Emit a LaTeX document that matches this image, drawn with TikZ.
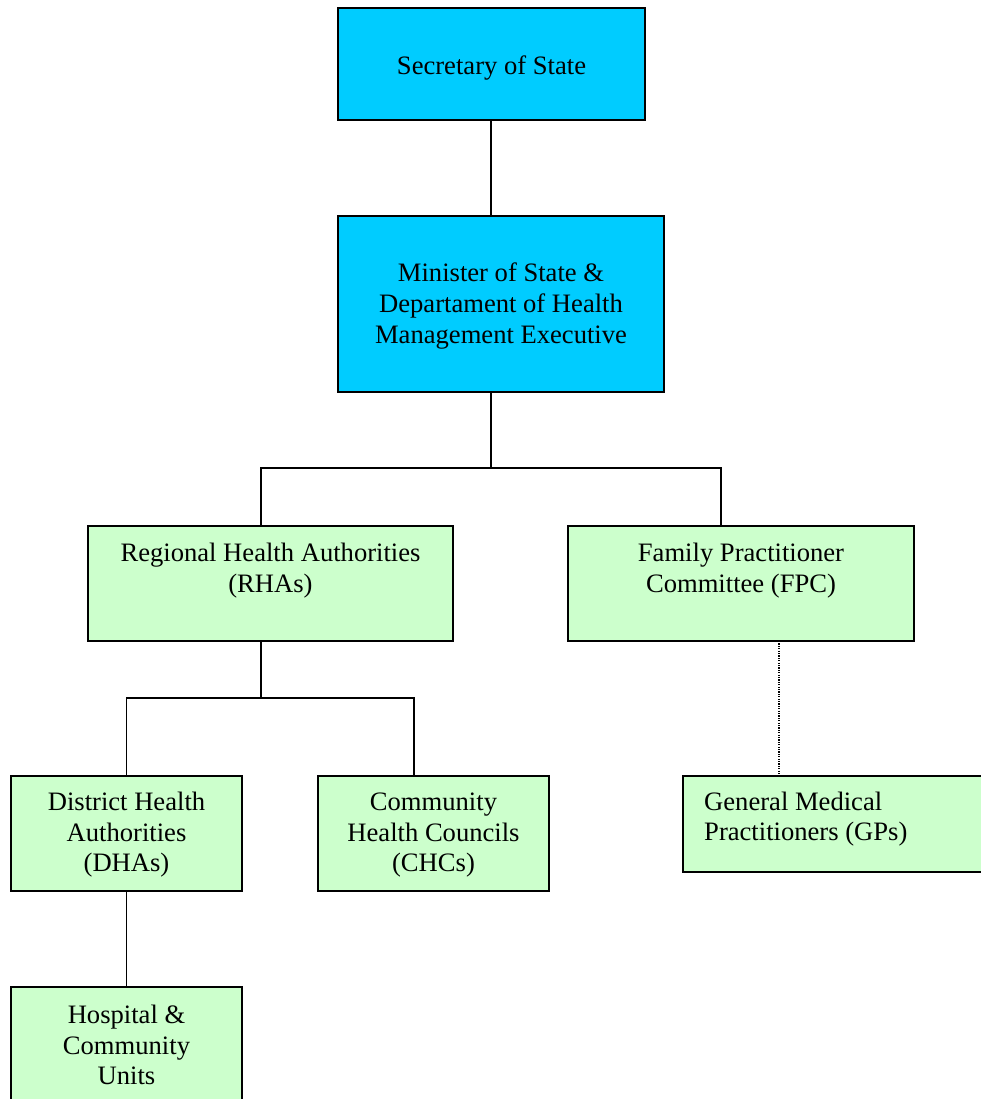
\documentclass[tikz,border=0pt]{standalone}
\usepackage{fontspec}
\setmainfont{Liberation Serif}
\usetikzlibrary{calc}
\definecolor{boxcyan}{HTML}{00CCFF}
\definecolor{boxgreen}{HTML}{CCFFCC}
\newcommand{\chartfont}{\fontsize{26.6}{30.8}\selectfont}
\begin{document}
\begin{tikzpicture}[x=1pt,y=-1pt,
  box/.style={draw=black, line width=1.6pt, rectangle, inner sep=0pt, outer sep=0pt,
              anchor=north west, align=center, font=\chartfont},
  topbox/.style={box, fill=boxcyan},
  subbox/.style={box, fill=boxgreen},
  conn/.style={draw=black, line width=1.3pt},
  dotconn/.style={draw=black, line width=1.2pt, dash pattern=on 1.2pt off 1.2pt},
  label/.style={font=\chartfont, align=left, inner sep=0pt, anchor=west}]
\useasboundingbox[fill=white] (0,0) rectangle (981,1099);

% upper tier
\node[topbox, minimum width=307pt, minimum height=112pt] (sec) at (338,8)
  {\rule{0pt}{27pt}Secretary of State};
\node[topbox, minimum width=326pt, minimum height=176pt] (min) at (338,216)
  {\rule{0pt}{23pt}Minister of State \&\\Departament of Health\\Management Executive};

% authorities
\node[subbox, minimum width=365pt, minimum height=115pt] (rha) at (88,526)
  {Regional Health Authorities\\(RHAs)\\\rule[-1.2pt]{0pt}{21.5pt}};
\node[subbox, minimum width=346pt, minimum height=115pt] (fpc) at (568,526)
  {Family Practitioner\\Committee (FPC)\\\rule[-1.2pt]{0pt}{21.5pt}};

\node[subbox, minimum width=231pt, minimum height=115pt] (dha) at (11,776)
  {\rule{0pt}{21pt}District Health\\Authorities\\(DHAs)};
\node[subbox, minimum width=231pt, minimum height=115pt] (chc) at (318,776)
  {\rule{0pt}{21pt}Community\\Health Councils\\(CHCs)};
\node[subbox, minimum width=330pt, minimum height=96pt] (gp) at (683,776) {};
\node[label] (gptext) at ($(gp.north west)+(21,43)$)
  {General Medical\\Practitioners (GPs)};

\node[subbox, minimum width=231pt, minimum height=116pt] (hosp) at (11,987)
  {Hospital \&\\Community\\Units};

% connectors
\coordinate (secdown) at ($(sec.south west)+(153,0)$);
\draw[conn] (secdown) -- (secdown |- min.north);
\draw[conn] (secdown |- min.south) -- ++(0,76) coordinate (busA);
\draw[conn] ($(rha.north west)+(173,0)$) -- ++(0,-58) -| ($(fpc.north west)+(153,0)$);

\draw[conn] ($(rha.south west)+(173,0)$) -- ++(0,57);
\draw[conn] (dha.north) -- ++(0,-78) -| ($(chc.north west)+(96,0)$);
\draw[conn] (dha.south) -- (hosp.north);

\coordinate (fpcdown) at ($(fpc.south west)+(211,0)$);
\draw[dotconn] (fpcdown) -- (fpcdown |- gp.north);
\end{tikzpicture}
\end{document}
